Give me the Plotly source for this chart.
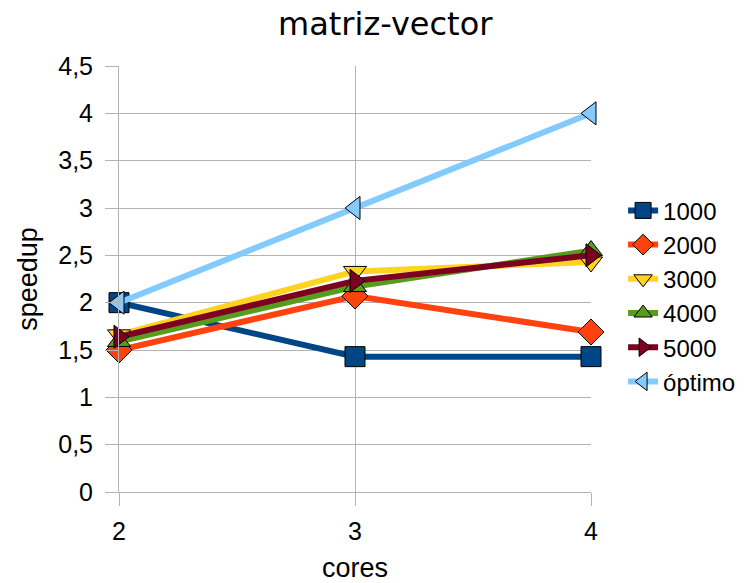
import plotly.graph_objects as go

cores = [2, 3, 4]
series_names = ["1000", "2000", "3000", "4000", "5000", "óptimo"]
speedup_1000 = [2.0, 1.43, 1.43]
speedup_2000 = [1.50, 2.07, 1.69]
speedup_3000 = [1.66, 2.33, 2.43]
speedup_4000 = [1.59, 2.17, 2.55]
speedup_5000 = [1.64, 2.23, 2.50]
speedup_optimo = [2, 3, 4]

values = [speedup_1000, speedup_2000, speedup_3000, speedup_4000, speedup_5000, speedup_optimo]
colors = ["#004586", "#ff420e", "#ffd320", "#579d1c", "#7e0021", "#83caff"]
symbols = ["square", "diamond", "triangle-down", "triangle-up", "triangle-right", "triangle-left"]

fig = go.Figure()
for name, ys, c, s in zip(series_names, values, colors, symbols):
    fig.add_trace(go.Scatter(
        x=cores, y=ys, name=name, mode="lines+markers",
        line=dict(color=c, width=6),
        marker=dict(symbol=s, size=20, color=c, line=dict(color="black", width=1)),
        cliponaxis=False,
    ))

font = "Liberation Sans, Arial, sans-serif"
fig.update_layout(
    width=748, height=583,
    margin=dict(l=119, r=157, t=66, b=91, autoexpand=False),
    paper_bgcolor="white", plot_bgcolor="white",
    separators=",.",
    font=dict(family=font, size=25, color="black"),
    title=dict(text="matriz-vector", x=0.515, xanchor="center", y=0.96, yanchor="middle",
               font=dict(size=32, family="DejaVu Sans, sans-serif", color="black")),
    xaxis=dict(range=[2, 4], tickvals=cores, ticktext=["2", "3", "4"],
               showgrid=True, gridcolor="#b3b3b3", gridwidth=1,
               showline=True, linecolor="#b3b3b3", linewidth=1,
               ticks="outside", ticklen=13, tickcolor="#b3b3b3",
               ticklabelstandoff=4,
               zeroline=False, tickfont=dict(size=25),
               title=dict(text="cores", standoff=22, font=dict(size=27))),
    yaxis=dict(range=[0, 4.5], dtick=0.5, tick0=0,
               showgrid=True, gridcolor="#b3b3b3", gridwidth=1,
               showline=True, linecolor="#b3b3b3", linewidth=1,
               ticks="outside", ticklen=13, tickcolor="#b3b3b3",
               ticklabelstandoff=7,
               zeroline=False, tickfont=dict(size=25),
               title=dict(text="speedup", standoff=12, font=dict(size=27))),
    legend=dict(xref="container", yref="container", x=0.833, y=0.677,
                xanchor="left", yanchor="top",
                font=dict(size=24), itemwidth=30, tracegroupgap=0,
                bgcolor="rgba(0,0,0,0)"),
    showlegend=True,
)

fig.write_html("out.html")
